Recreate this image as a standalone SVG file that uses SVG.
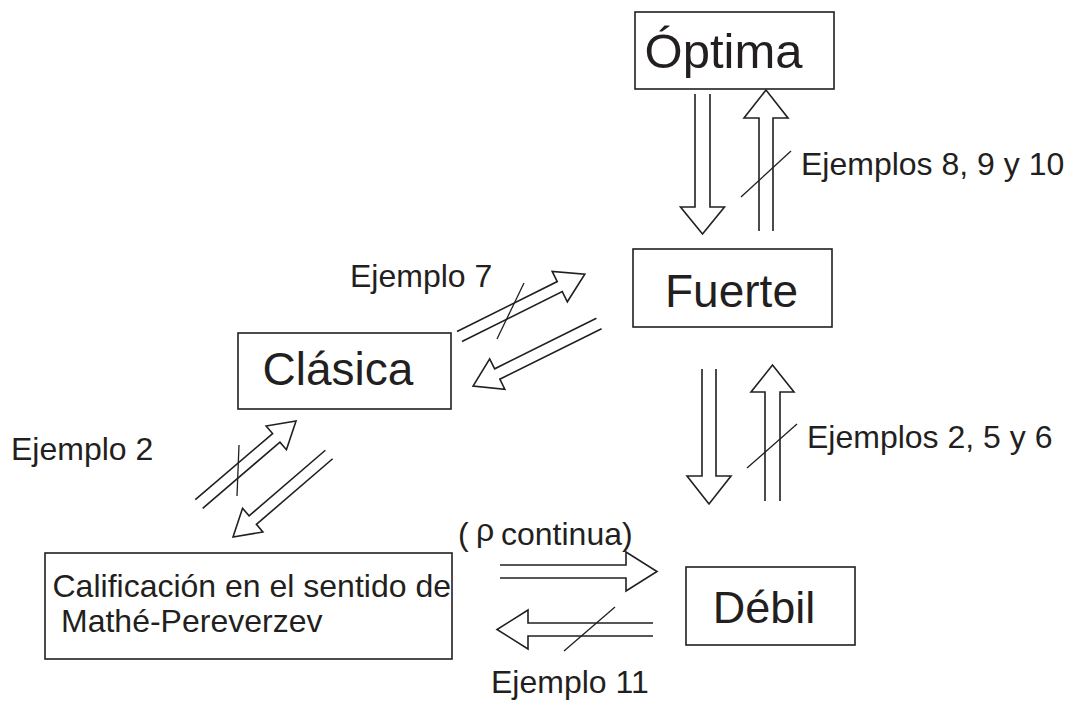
<svg xmlns="http://www.w3.org/2000/svg" width="1078" height="705" viewBox="0 0 1078 705">
<style>
.box{fill:#fff;stroke:#231f20;stroke-width:1.6}
.arr{fill:none;stroke:#231f20;stroke-width:1.6;stroke-linejoin:miter}
.sl{stroke:#231f20;stroke-width:1.3}
.big{font-family:"Liberation Sans",Arial,sans-serif;font-size:46px;fill:#231f20}
.lbl{font-family:"Liberation Sans",Arial,sans-serif;font-size:32px;fill:#231f20}
</style>
<rect width="1078" height="705" fill="#fff"/>
<g id="optima"><rect class="box" x="635" y="12" width="199" height="77"/><text class="big" x="723.5" y="68" text-anchor="middle" style="font-size:49px">Óptima</text></g>
<g id="fuerte"><rect class="box" x="633" y="249" width="199" height="78"/><text class="big" x="731.5" y="307" text-anchor="middle">Fuerte</text></g>
<g id="clasica"><rect class="box" x="238" y="333" width="213" height="76"/><text class="big" x="338" y="385" text-anchor="middle">Clásica</text></g>
<g id="debil"><rect class="box" x="686" y="567" width="169" height="78"/><text class="big" x="764" y="623" text-anchor="middle" style="font-size:45px">Débil</text></g>
<g id="calificacion"><rect class="box" x="45" y="553" width="407" height="106"/><text class="lbl" x="52.5" y="597">Calificación en el sentido de</text><text class="lbl" x="61" y="632">Mathé-Pereverzev</text></g>
<g id="connectors">
<path class="arr" transform="translate(702.5,94) rotate(90)" d="M0,-7.5 H113 V-22 L140,0 L113,22 V7.5 H0"/>
<path class="arr" transform="translate(766,231) rotate(-90)" d="M0,-7 H113 V-22 L141,0 L113,22 V7 H0"/>
<line class="sl" x1="741" y1="197" x2="791" y2="151"/>
<path class="arr" transform="translate(709,369) rotate(90)" d="M0,-7 H107 V-22 L135,0 L107,22 V7 H0"/>
<path class="arr" transform="translate(772.5,501) rotate(-90)" d="M0,-7.5 H109 V-21.5 L136,0 L109,21.5 V7.5 H0"/>
<line class="sl" x1="747" y1="468" x2="797" y2="424"/>
<path class="arr" transform="translate(459.5,336.5) rotate(-26.47)" d="M0,-5.6 H112 V-17 L140,0 L112,17 V5.6 H0"/>
<path class="arr" transform="translate(599,323.5) rotate(153.6)" d="M0,-5.8 H113.6 V-17 L140.6,0 L113.6,17 V5.8 H0"/>
<line class="sl" x1="497" y1="339" x2="524" y2="283"/>
<path class="arr" transform="translate(199,504) rotate(-40.55)" d="M0,-5.65 H101.7 V-15.6 L127.7,0 L101.7,15.6 V5.65 H0"/>
<path class="arr" transform="translate(329,454.5) rotate(139.3)" d="M0,-5.6 H100.6 V-15.6 L126.6,0 L100.6,15.6 V5.6 H0"/>
<line class="sl" x1="239" y1="445" x2="237" y2="496"/>
<path class="arr" transform="translate(500,571.5)" d="M0,-6.5 H126 V-19.5 L157,0 L126,19.5 V6.5 H0"/>
<path class="arr" transform="translate(653,629.5) rotate(180)" d="M0,-6.5 H125 V-19.5 L156,0 L125,19.5 V6.5 H0"/>
<line class="sl" x1="564" y1="651" x2="615" y2="607"/>
</g>
<g id="labels">
<text class="lbl" x="801" y="175">Ejemplos 8, 9 y 10</text>
<text class="lbl" x="807" y="448">Ejemplos 2, 5 y 6</text>
<text class="lbl" x="350" y="287">Ejemplo 7</text>
<text class="lbl" x="11" y="460">Ejemplo 2</text>
<text class="lbl" x="491" y="693">Ejemplo 11</text>
<text class="lbl" x="458" y="545">(</text>
<text class="lbl" x="476" y="541">ρ</text>
<text class="lbl" x="501" y="545">continua)</text>
</g>
</svg>
